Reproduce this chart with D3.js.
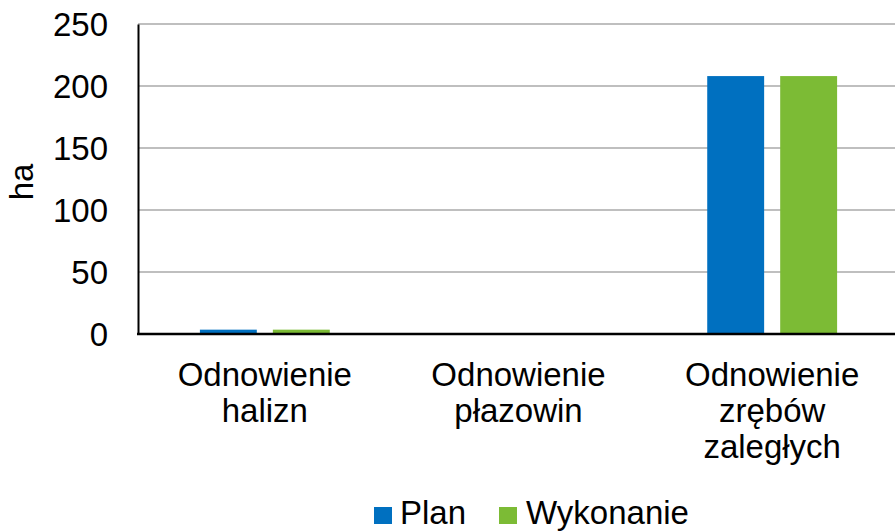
<!DOCTYPE html>
<html><head><meta charset="utf-8">
<script src="https://cdn.jsdelivr.net/npm/d3@7"></script>
<style>body{margin:0;background:#fff}svg{display:block}</style>
</head><body>
<script>
const categories = [["Odnowienie","halizn"],["Odnowienie","płazowin"],["Odnowienie","zrębów","zaległych"]];
const seriesNames = ["Plan","Wykonanie"];
const planValues = [3.5, 0, 208];
const wykonanieValues = [3.5, 0, 208];
const yTicks = [0,50,100,150,200,250];
const colors = ["#0070c0","#7cbb35"];

(function(){
const W=895,H=531;
const svg=d3.select("body").append("svg").attr("width",W).attr("height",H);
const font="Liberation Sans, Arial, sans-serif";
const fs=33;
const pL=138, pR=899, pT=24, pB=334;
const x=d3.scaleBand().domain(d3.range(categories.length)).range([pL,pR]).paddingInner(0.488).paddingOuter(0.244);
const x1=d3.scaleBand().domain(seriesNames).range([0,x.bandwidth()]).paddingInner(0.22);
const y=d3.scaleLinear().domain([0,250]).range([pB,pT]);

svg.append("g").selectAll("line").data(yTicks.filter(d=>d>0)).join("line")
 .attr("x1",pL).attr("x2",W).attr("y1",d=>y(d)).attr("y2",d=>y(d))
 .attr("stroke","#bfbfbf").attr("stroke-width",2);

const data=[planValues,wykonanieValues];
seriesNames.forEach((s,si)=>{
  svg.append("g").selectAll("rect").data(data[si]).join("rect")
   .attr("x",(d,i)=>x(i)+x1(s)).attr("width",x1.bandwidth())
   .attr("y",d=>y(d)).attr("height",d=>y(0)-y(d)).attr("fill",colors[si]);
});

const ya=svg.append("g").attr("transform",`translate(${pL},0)`).call(d3.axisLeft(y).tickValues(yTicks).tickSize(0).tickPadding(30));
ya.select(".domain").attr("stroke","#000").attr("stroke-width",2);
ya.selectAll("text").attr("font-family",font).attr("font-size",fs).attr("fill","#000").attr("dy","0.34em");
svg.append("line").attr("x1",pL-1).attr("x2",W).attr("y1",pB).attr("y2",pB).attr("stroke","#000").attr("stroke-width",2.5);

categories.forEach((lines,i)=>{
  const t=svg.append("text").attr("text-anchor","middle").attr("font-family",font).attr("font-size",fs).attr("fill","#000");
  lines.forEach((l,j)=>t.append("tspan").attr("x",x(i)+x.bandwidth()/2).attr("y",386+j*36).text(l));
});

svg.append("text").attr("transform","translate(33,182) rotate(-90)").attr("text-anchor","middle")
 .attr("font-family",font).attr("font-size",fs).text("ha");

const leg=[{x:374,tx:400},{x:499,tx:526}];
seriesNames.forEach((s,i)=>{
  svg.append("rect").attr("x",leg[i].x).attr("y",507).attr("width",18).attr("height",17).attr("fill",colors[i]);
  svg.append("text").attr("x",leg[i].tx).attr("y",524).attr("font-family",font).attr("font-size",fs).text(s);
});
})();
</script>
</body></html>
